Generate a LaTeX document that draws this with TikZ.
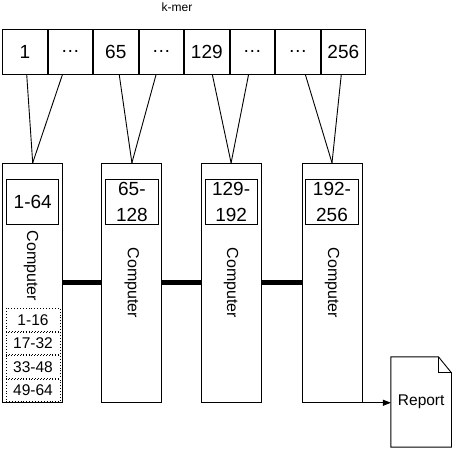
\documentclass[tikz,border=0pt]{standalone}
\usepackage{fontspec}
\setmainfont{Liberation Sans}
\usetikzlibrary{positioning,arrows.meta,calc}

\begin{document}
\begin{tikzpicture}[x=1pt,y=-1pt,line width=0.9pt,node distance=0pt,
  cell/.style={draw,minimum width=44.6pt,minimum height=45pt,inner sep=0pt,
               font=\fontsize{19}{22}\selectfont},
  comp/.style={draw,minimum width=60pt,minimum height=239pt,inner sep=0pt},
  rng/.style={draw,minimum width=52.3pt,minimum height=45.4pt,inner sep=0pt,
              align=center,font=\fontsize{19}{26}\selectfont},
  sub/.style={draw,dotted,minimum width=54pt,minimum height=22.7pt,inner sep=0pt,
              font=\fontsize{15.5}{18}\selectfont},
  lbl/.style={rotate=-90,inner sep=0pt,font=\fontsize{16}{19}\selectfont},
  bus/.style={line width=5pt},
  arr/.style={-{Triangle[length=8pt,width=6pt]}}]
\useasboundingbox (0,0) rectangle (454,450);
% k-mer
\node (kmer) at (177,7) {\fontsize{12}{14}\selectfont k-mer};
\node[cell] (c1) at (24.8,51.5) {1};
\node[cell,right=of c1] (c2) {…};
\node[cell,right=of c2] (c3) {65};
\node[cell,right=of c3] (c4) {…};
\node[cell,right=of c4] (c5) {129};
\node[cell,right=of c5] (c6) {…};
\node[cell,right=of c6] (c7) {…};
\node[cell,right=of c7] (c8) {256};
% computer
\node[comp] (m1) at (32.7,282.8) {};
\node[comp,right=38.3pt of m1] (m2) {};
\node[comp,right=38.3pt of m2] (m3) {};
\node[comp,right=40pt of m3] (m4) {};
\node[rng,below=16pt of m1.north] (r1) {1-64};
\node[rng,below=16pt of m2.north] (r2) {65-\\128};
\node[rng,below=16pt of m3.north] (r3) {129-\\192};
\node[rng,below=16pt of m4.north] (r4) {192-\\256};
\node[lbl] (t1) at (31,266) {Computer};
\node[lbl] (t2) at (m2) {Computer};
\node[lbl] (t3) at (m3) {Computer};
\node[lbl] (t4) at (m4) {Computer};
\node[sub] (s1) at (33,319.7) {1-16};
\node[sub,below=of s1] (s2) {17-32};
\node[sub,below=of s2] (s3) {33-48};
\node[sub,below=of s3] (s4) {49-64};
% report
\node[minimum width=59.7pt,minimum height=89.4pt,inner sep=0pt,
      font=\fontsize{15.5}{18}\selectfont] (rep) at (421.2,402) {Report};
\draw (rep.north west) -- ([xshift=-13pt]rep.north east)
  -- ([yshift=-16pt]rep.north east) -- (rep.south east) -- (rep.south west) -- cycle;
\draw ([xshift=-13pt]rep.north east) -- ([xshift=-13pt,yshift=-16pt]rep.north east)
  -- ([yshift=-16pt]rep.north east);
% archi
\draw ([xshift=1.9pt]c1.south) -- (m1.north);
\draw ([xshift=-7.8pt]c2.south) -- (m1.north);
\draw ([xshift=3.4pt]c3.south) -- (m2.north);
\draw ([xshift=-5.2pt]c4.south) -- (m2.north);
\draw ([xshift=5.5pt]c5.south) -- (m3.north);
\draw ([xshift=-3.7pt]c6.south) -- (m3.north);
\draw ([xshift=7.5pt]c7.south) -- (m4.north);
\draw ([xshift=-2pt]c8.south) -- (m4.north);
\draw[bus] (m1) -- (m2); \draw[bus] (m2) -- (m3); \draw[bus] (m3) -- (m4);
\draw[arr] (m4.south east) -- (m4.south east -| rep.west);
\end{tikzpicture}
\end{document}
